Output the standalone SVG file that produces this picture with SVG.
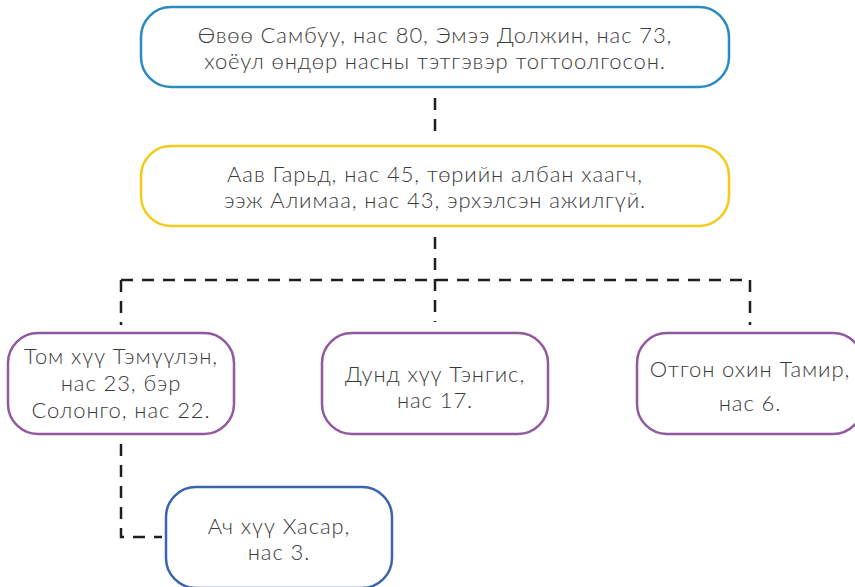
<svg xmlns="http://www.w3.org/2000/svg" width="855" height="587" viewBox="0 0 855 587">
<style>
.box{fill:#fff;stroke-width:2.5}
.t{font-family:Lato,"Open Sans","Liberation Sans",sans-serif;font-weight:300;font-size:22px;letter-spacing:0.9px;fill:#3b3b3b;text-anchor:middle}
.c{fill:none;stroke:#1e1e1e;stroke-width:2.5;stroke-dasharray:12 9}
</style>
<rect width="855" height="587" fill="#fff"/>
<g id="connectors">
<path class="c" d="M435 98V140"/>
<path class="c" d="M435 237V322"/>
<path class="c" d="M121 280H750"/>
<path class="c" d="M121 280V325"/>
<path class="c" d="M750 280V325"/>
<path class="c" d="M121 444V537H162"/>
</g>
<g id="n1"><rect class="box" x="141" y="7" width="588" height="80" rx="30" stroke="#2a8bc1"/>
<text class="t" x="435" y="43">Өвөө Самбуу, нас 80, Эмээ Должин, нас 73,</text>
<text class="t" x="435" y="69">хоёул өндөр насны тэтгэвэр тогтоолгосон.</text></g>
<g id="n2"><rect class="box" x="141" y="146" width="588" height="80" rx="30" stroke="#f5cb19"/>
<text class="t" x="435" y="182">Аав Гарьд, нас 45, төрийн албан хаагч,</text>
<text class="t" x="435" y="208">ээж Алимаа, нас 43, эрхэлсэн ажилгүй.</text></g>
<g id="n3"><rect class="box" x="8" y="333" width="226" height="101" rx="30" stroke="#915a9f"/>
<text class="t" x="121" y="364">Том хүү Тэмүүлэн,</text>
<text class="t" x="121" y="391">нас 23, бэр</text>
<text class="t" x="121" y="418">Солонго, нас 22.</text></g>
<g id="n4"><rect class="box" x="322" y="333" width="226" height="101" rx="30" stroke="#915a9f"/>
<text class="t" x="435" y="382">Дунд хүү Тэнгис,</text>
<text class="t" x="435" y="408">нас 17.</text></g>
<g id="n5"><rect class="box" x="637" y="333" width="226" height="101" rx="30" stroke="#915a9f"/>
<text class="t" x="750" y="377">Отгон охин Тамир,</text>
<text class="t" x="750" y="411">нас 6.</text></g>
<g id="n6"><rect class="box" x="166" y="487" width="226" height="101" rx="30" stroke="#3d63ae"/>
<text class="t" x="279" y="534">Ач хүү Хасар,</text>
<text class="t" x="279" y="560">нас 3.</text></g>
</svg>
